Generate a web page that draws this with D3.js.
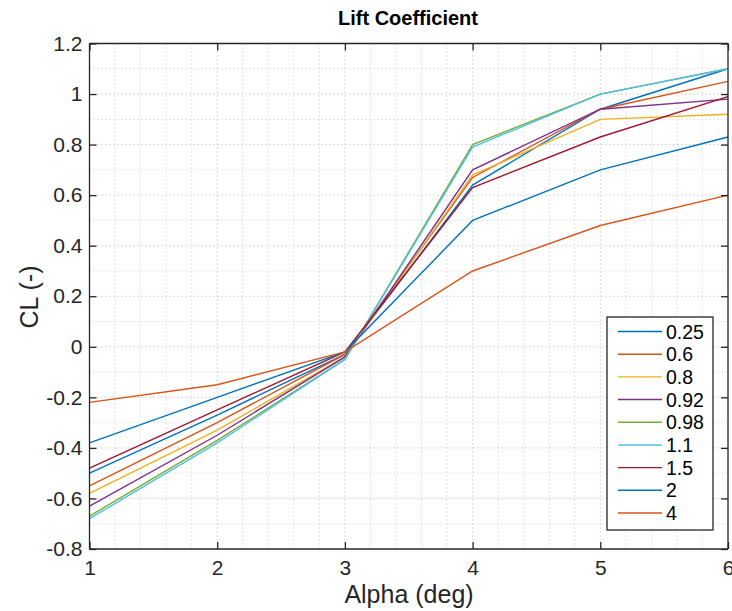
<!DOCTYPE html>
<html>
<head>
<meta charset="utf-8">
<script src="https://cdn.jsdelivr.net/npm/d3@7"></script>
<style>
  body { margin: 0; background: #fff; }
  svg { display: block; font-family: "Liberation Sans", Arial, Helvetica, sans-serif; }
</style>
</head>
<body>
<svg id="chart" width="732" height="611"></svg>
<script>
const alpha = [1, 2, 3, 4, 5, 6];
const seriesNames = ["0.25", "0.6", "0.8", "0.92", "0.98", "1.1", "1.5", "2", "4"];
const s025 = [-0.50, -0.27, -0.03, 0.64, 0.94, 1.10];
const s06  = [-0.55, -0.30, -0.03, 0.67, 0.94, 1.05];
const s08  = [-0.58, -0.33, -0.04, 0.68, 0.90, 0.92];
const s092 = [-0.63, -0.35, -0.04, 0.70, 0.94, 0.98];
const s098 = [-0.67, -0.37, -0.05, 0.80, 1.00, 1.10];
const s11  = [-0.68, -0.38, -0.05, 0.79, 1.00, 1.10];
const s15  = [-0.48, -0.25, -0.02, 0.63, 0.83, 0.99];
const s2   = [-0.38, -0.20, -0.02, 0.50, 0.70, 0.83];
const s4   = [-0.22, -0.15, -0.02, 0.30, 0.48, 0.60];
const seriesValues = [s025, s06, s08, s092, s098, s11, s15, s2, s4];
const colors = ["#0072BD", "#D95319", "#EDB120", "#7E2F8E", "#77AC30", "#4DBEEE", "#A2142F", "#0072BD", "#D95319"];
const xTicks = [1, 2, 3, 4, 5, 6];
const yTicks = [-0.8, -0.6, -0.4, -0.2, 0, 0.2, 0.4, 0.6, 0.8, 1, 1.2];
const titleText = "Lift Coefficient";
const xLabel = "Alpha (deg)";
const yLabel = "CL (-)";

const svg = d3.select("#chart");
const L = 89.5, R = 728, T = 43.5, B = 549;
const x = d3.scaleLinear().domain([1, 6]).range([L, R]);
const y = d3.scaleLinear().domain([-0.8, 1.2]).range([B, T]);
const axisColor = "#262626";

// minor grid
const xMinor = d3.range(1, 6.001, 0.2).filter(v => Math.abs(v - Math.round(v)) > 1e-6);
const yMinor = d3.range(-0.8, 1.2001, 0.1).filter(v => Math.abs(v * 5 - Math.round(v * 5)) > 1e-6);
const grid = svg.append("g");
grid.selectAll(".xm").data(xMinor).enter().append("line")
  .attr("x1", d => x(d)).attr("x2", d => x(d)).attr("y1", T).attr("y2", B)
  .attr("stroke", "#c8c8c8").attr("stroke-width", 1).attr("stroke-dasharray", "1,3");
grid.selectAll(".ym").data(yMinor).enter().append("line")
  .attr("y1", d => y(d)).attr("y2", d => y(d)).attr("x1", L).attr("x2", R)
  .attr("stroke", "#c8c8c8").attr("stroke-width", 1).attr("stroke-dasharray", "1,3");
grid.selectAll(".xM").data(xTicks.slice(1, -1)).enter().append("line")
  .attr("x1", d => x(d)).attr("x2", d => x(d)).attr("y1", T).attr("y2", B)
  .attr("stroke", "#b0b0b0").attr("stroke-width", 1).attr("stroke-dasharray", "1,3");
grid.selectAll(".yM").data(yTicks.slice(1, -1)).enter().append("line")
  .attr("y1", d => y(d)).attr("y2", d => y(d)).attr("x1", L).attr("x2", R)
  .attr("stroke", "#b0b0b0").attr("stroke-width", 1).attr("stroke-dasharray", "1,3");

// lines
const line = d3.line().x((d, i) => x(alpha[i])).y(d => y(d));
svg.append("g").selectAll("path").data(seriesValues).enter().append("path")
  .attr("d", d => line(d)).attr("fill", "none")
  .attr("stroke", (d, i) => colors[i]).attr("stroke-width", 1.4);

// axes (ticks inside, box)
const fmt = d => (d === 0 ? "0" : String(+d.toFixed(1)));
const axBottom = svg.append("g").attr("transform", `translate(0,${B})`)
  .call(d3.axisBottom(x).tickValues(xTicks).tickSize(-7).tickPadding(11).tickFormat(d3.format("d")));
const axLeft = svg.append("g").attr("transform", `translate(${L},0)`)
  .call(d3.axisLeft(y).tickValues(yTicks).tickSize(-7).tickPadding(7).tickFormat(fmt));
const axTop = svg.append("g").attr("transform", `translate(0,${T})`)
  .call(d3.axisTop(x).tickValues(xTicks).tickSize(-7).tickFormat(""));
const axRight = svg.append("g").attr("transform", `translate(${R},0)`)
  .call(d3.axisRight(y).tickValues(yTicks).tickSize(-7).tickFormat(""));
[axBottom, axLeft, axTop, axRight].forEach(g => {
  g.select(".domain").attr("stroke", axisColor).attr("stroke-width", 1.3);
  g.selectAll(".tick line").attr("stroke", axisColor).attr("stroke-width", 1.3);
  g.selectAll("text").attr("fill", axisColor).style("font-size", "21px")
    .style("font-family", "'Liberation Sans', Arial, sans-serif");
});
axBottom.select(".domain").attr("d", `M${L},0H${R}`);
axTop.select(".domain").attr("d", `M${L},0H${R}`);
axLeft.select(".domain").attr("d", `M0,${T}V${B}`);
axRight.select(".domain").attr("d", `M0,${T}V${B}`);

// labels
svg.append("text").attr("x", 408).attr("y", 25).attr("text-anchor", "middle")
  .attr("font-weight", "bold").attr("font-size", "20px").attr("fill", "#000").text(titleText);
svg.append("text").attr("x", 409).attr("y", 603).attr("text-anchor", "middle")
  .attr("font-size", "25px").attr("fill", axisColor).text(xLabel);
svg.append("text").attr("transform", `translate(38,${297}) rotate(-90)`)
  .attr("text-anchor", "middle").attr("font-size", "25px").attr("fill", axisColor).text(yLabel);

// legend
const lg = svg.append("g");
const lx = 607, ly = 317, lw = 106, lh = 213;
lg.append("rect").attr("x", lx).attr("y", ly).attr("width", lw).attr("height", lh)
  .attr("fill", "#fff").attr("stroke", axisColor).attr("stroke-width", 1.3);
const rowY = d3.scaleLinear().domain([0, 8]).range([331.5, 513]);
const items = lg.selectAll(".it").data(seriesNames).enter().append("g");
items.append("line").attr("x1", 618).attr("x2", 662)
  .attr("y1", (d, i) => rowY(i)).attr("y2", (d, i) => rowY(i))
  .attr("stroke", (d, i) => colors[i]).attr("stroke-width", 1.4);
items.append("text").attr("x", 666).attr("y", (d, i) => rowY(i) + 7)
  .attr("font-size", "19.5px").attr("fill", "#000").text(d => d);
</script>
</body>
</html>
